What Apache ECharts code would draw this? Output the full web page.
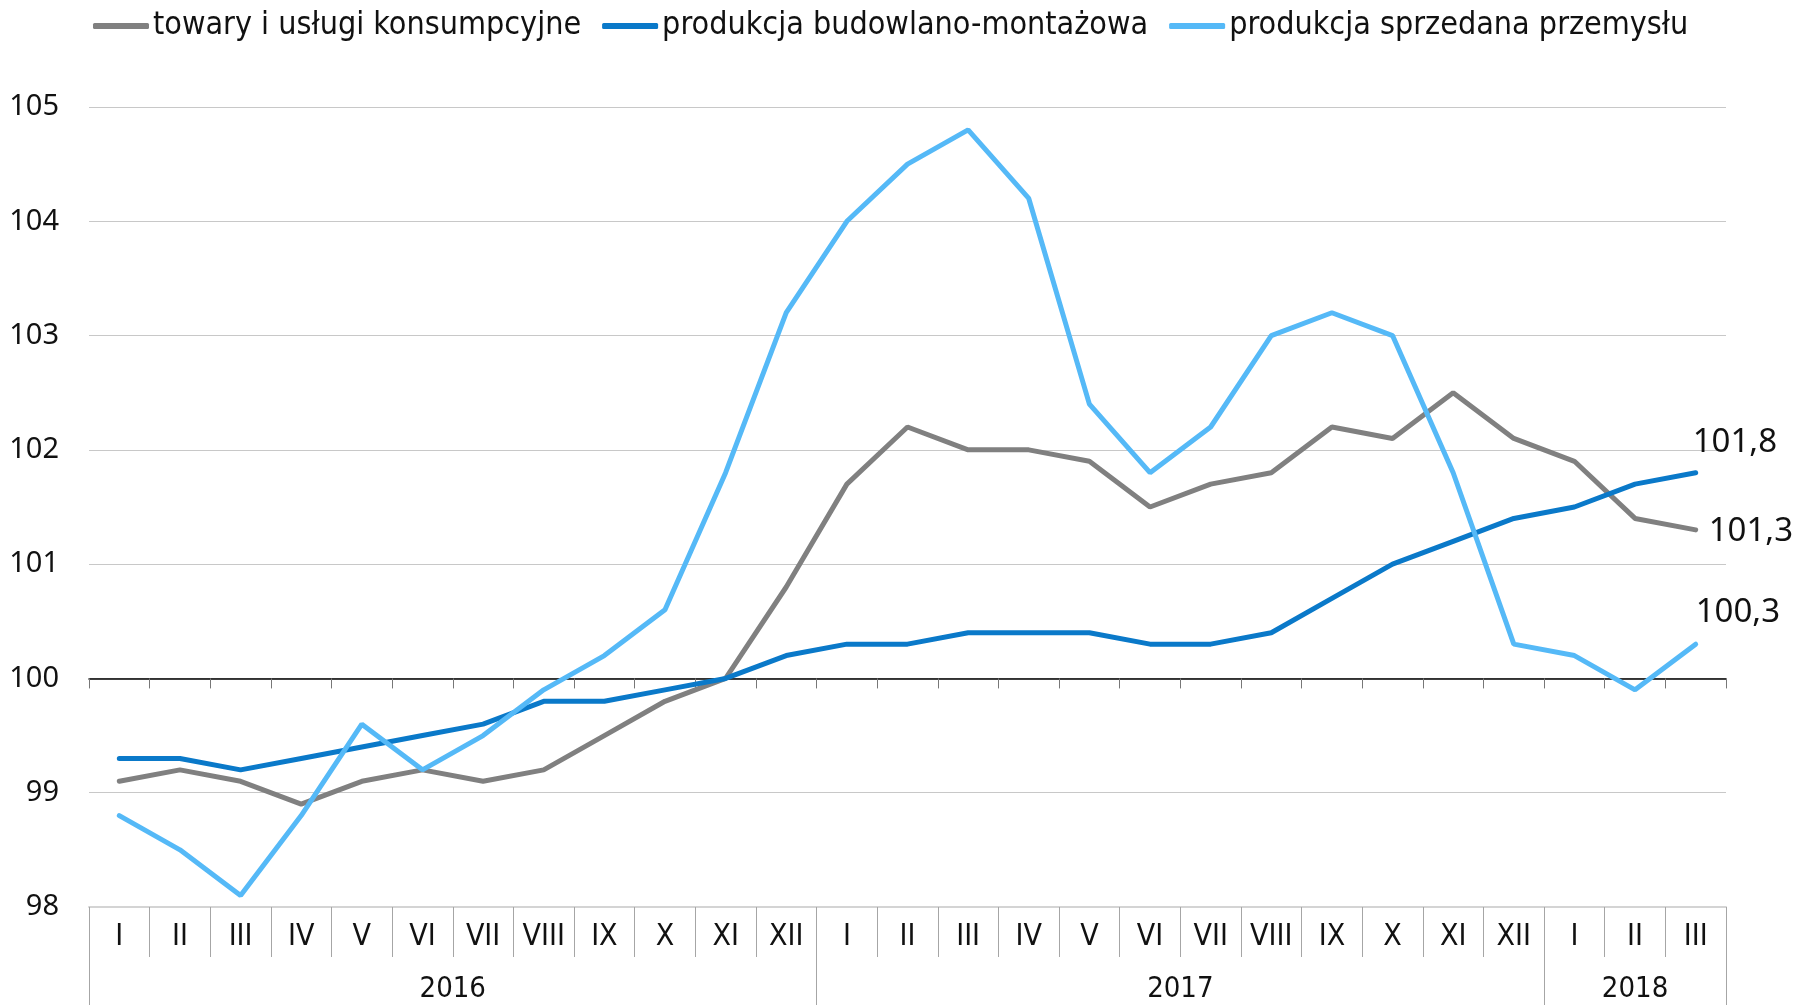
<!DOCTYPE html>
<html>
<head>
<meta charset="utf-8">
<script src="https://cdn.jsdelivr.net/npm/echarts@6/dist/echarts.min.js"></script>
<style>
html, body { margin: 0; padding: 0; background: #fff; }
#chart { width: 1802px; height: 1006px; }
</style>
</head>
<body>
<div id="chart"></div>
<script>
// miesiace i lata
var months = ['I','II','III','IV','V','VI','VII','VIII','IX','X','XI','XII',
	'I','II','III','IV','V','VI','VII','VIII','IX','X','XI','XII',
	'I','II','III'];
var years = ['2016', '2017', '2018'];
var yearLengths = [12, 12, 3];

// wskazniki
var towary = [99.1, 99.2, 99.1, 98.9, 99.1, 99.2, 99.1, 99.2, 99.5, 99.8, 100.0, 100.8,
	101.7, 102.2, 102.0, 102.0, 101.9, 101.5, 101.7, 101.8, 102.2, 102.1, 102.5, 102.1,
	101.9, 101.4, 101.3];
var budowlana = [99.3, 99.3, 99.2, 99.3, 99.4, 99.5, 99.6, 99.8, 99.8, 99.9, 100.0, 100.2,
	100.3, 100.3, 100.4, 100.4, 100.4, 100.3, 100.3, 100.4, 100.7, 101.0, 101.2, 101.4,
	101.5, 101.7, 101.8];
var przemysl = [98.8, 98.5, 98.1, 98.8, 99.6, 99.2, 99.5, 99.9, 100.2, 100.6, 101.8, 103.2,
	104.0, 104.5, 104.8, 104.2, 102.4, 101.8, 102.2, 103.0, 103.2, 103.0, 101.8, 100.3,
	100.2, 99.9, 100.3];

var names = ['towary i usługi konsumpcyjne', 'produkcja budowlano-montażowa', 'produkcja sprzedana przemysłu'];
var colors = ['#808080', '#0a79c9', '#55b9f7'];

var gridTop = 107, gridBottom = 99, gridHeight = 1006 - gridTop - gridBottom;
var yMin = 98, yMax = 105;
var baseOffset = -gridHeight * (100 - yMin) / (yMax - yMin);
var narrow = "'DejaVu Sans Condensed', 'Roboto', sans-serif";

// os lat: polowki miesiecy, zeby podpis stal na srodku roku
var halfData = [], yearTickIdx = [0], yearLabelIdx = [];
var pos = 0;
for (var i = 0; i < years.length; i++) {
	yearLabelIdx.push(pos + yearLengths[i]);
	pos += yearLengths[i] * 2;
	yearTickIdx.push(pos);
}
for (var k = 0; k <= pos; k++) {
	var j = yearLabelIdx.indexOf(k);
	halfData.push(j >= 0 ? years[j] : '');
}

var endLabel = function(offset){
	return {
		show: true,
		offset: offset,
		distance: 0,
		fontFamily: 'Noto Sans',
		fontSize: 33,
		color: '#111',
		formatter: function(p){
			return p.value.toFixed(1).replace('.', ',');
		}
	};
};

var chart = echarts.init(document.getElementById('chart'));
chart.setOption({
	animation: false,
	color: colors,
	textStyle: { fontFamily: narrow },
	legend: {
		top: 5,
		left: 88,
		itemWidth: 56,
		itemHeight: 6,
		itemGap: 21,
		icon: 'roundRect',
		textStyle: { fontFamily: narrow, fontSize: 32, color: '#111', padding: [0, 0, 0, -1] },
		data: names
	},
	grid: { left: 89, right: 76, top: gridTop, bottom: gridBottom },
	xAxis: [
		{
			type: 'category',
			data: months,
			boundaryGap: true,
			axisLine: { lineStyle: { color: '#d4d4d4', width: 2 } },
			axisTick: { show: true, interval: 0, length: 50, lineStyle: { color: '#a6a6a6', width: 1 } },
			axisLabel: { interval: 0, margin: 15, fontFamily: narrow, fontSize: 30, color: '#111' },
			splitLine: { show: false }
		},
		{
			type: 'category',
			data: months,
			boundaryGap: true,
			position: 'bottom',
			offset: baseOffset,
			axisLine: { lineStyle: { color: '#000', width: 1.5 } },
			axisTick: { show: true, interval: 0, length: 10, lineStyle: { color: '#777', width: 1 } },
			axisLabel: { show: false },
			splitLine: { show: false }
		},
		{
			type: 'category',
			data: halfData,
			boundaryGap: false,
			position: 'bottom',
			axisLine: { show: false },
			axisTick: {
				show: true,
				length: 98,
				interval: function(idx){ return yearTickIdx.indexOf(idx) >= 0; },
				lineStyle: { color: '#a6a6a6', width: 1 }
			},
			axisLabel: {
				margin: 68,
				interval: function(idx){ return yearLabelIdx.indexOf(idx) >= 0; },
				fontFamily: narrow,
				fontSize: 29,
				color: '#111'
			},
			splitLine: { show: false }
		}
	],
	yAxis: {
		type: 'value',
		min: yMin,
		max: yMax,
		interval: 1,
		axisLine: { show: false },
		axisTick: { show: false },
		axisLabel: { margin: 30, fontFamily: 'Noto Sans', fontSize: 29, color: '#111' },
		splitLine: { lineStyle: { color: '#c8c8c8', width: 1.2 } }
	},
	series: [
		{
			name: names[0], type: 'line', data: towary, xAxisIndex: 0,
			symbol: 'none', z: 3,
			lineStyle: { width: 5, color: colors[0], cap: 'round' },
			endLabel: endLabel([13, 2])
		},
		{
			name: names[1], type: 'line', data: budowlana, xAxisIndex: 0,
			symbol: 'none', z: 4,
			lineStyle: { width: 5, color: colors[1], cap: 'round' },
			endLabel: endLabel([-3, -30])
		},
		{
			name: names[2], type: 'line', data: przemysl, xAxisIndex: 0,
			symbol: 'none', z: 5,
			lineStyle: { width: 5, color: colors[2], cap: 'round' },
			endLabel: endLabel([0, -32])
		}
	]
});
</script>
</body>
</html>
